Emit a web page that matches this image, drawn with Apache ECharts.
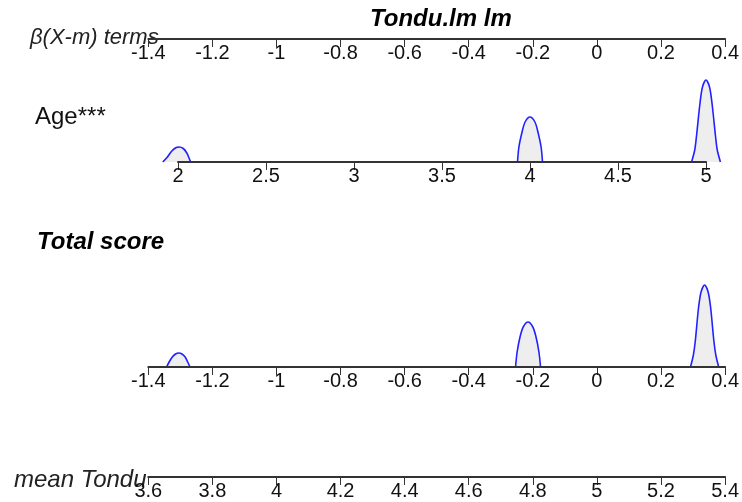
<!DOCTYPE html>
<html><head><meta charset="utf-8">
<script src="https://cdn.jsdelivr.net/npm/echarts@6/dist/echarts.min.js"></script>
<style>html,body{margin:0;padding:0;background:#fff}#c{width:742px;height:502px}</style>
</head><body><div id="c"></div>
<script>
// ---- data ----
const betaTicks = [-1.4, 0.4, 0.2];      // min, max, interval of beta(X-m) axis
const ageTicks = [2, 5, 0.5];
const meanTicks = [3.6, 5.4, 0.2];
// density outlines for Age (value, density)
const ageDens2 = [[1.913,0],[1.94,5],[1.965,11],[1.99,14.5],[2.006,15],[2.03,13.5],[2.05,9],[2.065,3],[2.072,0]];
const ageDens4 = [[3.929,0],[3.937,15],[3.955,30],[3.972,40],[4.0,45],[4.028,40],[4.045,30],[4.063,15],[4.071,0]];
const ageDens5 = [[4.918,0],[4.936,12],[4.946,26],[4.966,59],[4.98,75],[5.0,82],[5.02,75],[5.034,59],[5.054,26],[5.064,12],[5.082,0]];
// density outlines for Total score (value, density)
const totDensA = [[-1.343,0],[-1.335,5],[-1.325,10],[-1.315,13],[-1.305,14],[-1.295,13],[-1.285,10],[-1.277,5],[-1.270,0]];
const totDensB = [[-0.254,0],[-0.249,15],[-0.240,30],[-0.230,40],[-0.215,45],[-0.200,40],[-0.190,30],[-0.181,15],[-0.176,0]];
const totDensC = [[0.292,0],[0.301,12],[0.307,26],[0.317,59],[0.325,75],[0.336,82],[0.347,75],[0.355,59],[0.365,26],[0.371,12],[0.380,0]];
const texts = {title:'Tondu.lm lm', beta:'β(X-m) terms', age:'Age***', total:'Total score', mean:'mean Tondu'};

// ---- chart ----
const chart = echarts.init(document.getElementById('c'));
const fmt = v => String(+(+v).toFixed(2));
function xax(gi, t){
  return {gridIndex:gi, type:'value', min:t[0], max:t[1], interval:t[2], position:'bottom',
    axisLine:{show:true, onZero:false, lineStyle:{color:'#333', width:2}},
    axisTick:{show:true, length:8, lineStyle:{color:'#333', width:1}},
    axisLabel:{show:true, margin:4, color:'#111', fontSize:20, fontFamily:'Liberation Sans, Arial', formatter:fmt, showMinLabel:true, showMaxLabel:true},
    splitLine:{show:false}, z:3};
}
function hiddenX(gi, mn, mx){ return {gridIndex:gi, type:'value', min:mn, max:mx, show:false}; }
function yax(gi){ return {gridIndex:gi, type:'value', min:0, max:100, show:false}; }
function dens(xi, d){
  return {type:'line', xAxisIndex:xi, yAxisIndex:xi, data:d, smooth:0.3, symbol:'none',
    lineStyle:{color:'#2222ff', width:1.6}, areaStyle:{color:'#eeeeee', opacity:1}, z:1};
}
const L = 148.3, R = 742-727.9;
const ageL = 178, ageR = 36, agePad = 20, agePx = (742-ageL-ageR)/(ageTicks[1]-ageTicks[0]);
chart.setOption({
  animation:false,
  grid:[
    {left:L, right:R, top:29, height:10},
    {left:ageL, right:ageR, top:62, height:100},
    {left:L, right:R, top:267, height:100},
    {left:L, right:R, top:467, height:10},
    {left:ageL-agePad, right:ageR-agePad, top:62, height:100}
  ],
  xAxis:[xax(0,betaTicks), xax(1,ageTicks), xax(2,betaTicks), xax(3,meanTicks),
         hiddenX(4, ageTicks[0]-agePad/agePx, ageTicks[1]+agePad/agePx)],
  yAxis:[yax(0), yax(1), yax(2), yax(3), yax(4)],
  series:[
    dens(4, ageDens2), dens(4, ageDens4), dens(4, ageDens5),
    dens(2, totDensA), dens(2, totDensB), dens(2, totDensC),
    {type:'line', xAxisIndex:0, yAxisIndex:0, data:[]},
    {type:'line', xAxisIndex:1, yAxisIndex:1, data:[]},
    {type:'line', xAxisIndex:3, yAxisIndex:3, data:[]}
  ],
  graphic:[
    {type:'text', left:370, top:7, style:{text:texts.title, font:'italic bold 24px "Liberation Sans", Arial', fill:'#000'}},
    {type:'text', left:30, top:27, z:0, style:{text:texts.beta, font:'italic 22px "Liberation Sans", Arial', fill:'#222'}},
    {type:'text', left:35, top:105, style:{text:texts.age, font:'24px "Liberation Sans", Arial', fill:'#111'}},
    {type:'text', left:37, top:230, style:{text:texts.total, font:'italic bold 24px "Liberation Sans", Arial', fill:'#000'}},
    {type:'text', left:14, top:468, style:{text:texts.mean, font:'italic 24px "Liberation Sans", Arial', fill:'#222'}}
  ]
});
</script></body></html>
